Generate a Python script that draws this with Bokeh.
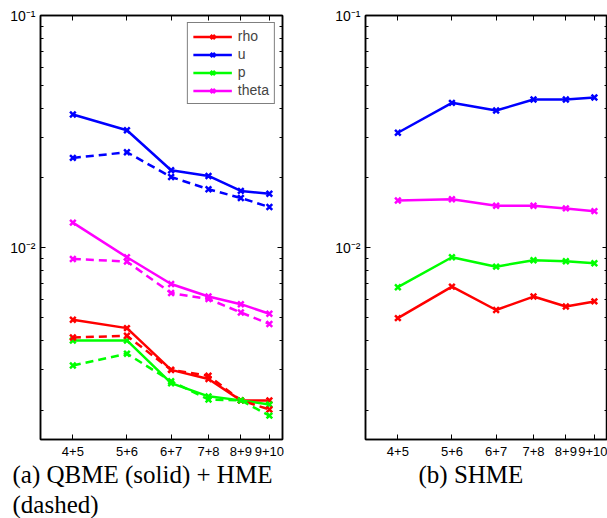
import math
from bokeh.plotting import figure
from bokeh.models import FixedTicker, LogAxis, Title, Range1d, Legend, LegendItem
from bokeh.layouts import row
from bokeh.embed import file_html
from bokeh.resources import INLINE

# ---------------- data ----------------
x_m = [4, 5, 6, 7, 8, 9]
tick_labels = ["4+5", "5+6", "6+7", "7+8", "8+9", "9+10"]
var_names = ["rho", "u", "p", "theta"]
colors = ["#ff0000", "#0000ff", "#00ff00", "#ff00ff"]

qbme_rho = [0.00491, 0.00452, 0.00299, 0.00273, 0.00221, 0.00221]
qbme_u = [0.0375, 0.0321, 0.0216, 0.0204, 0.0176, 0.0171]
qbme_p = [0.00400, 0.00400, 0.00262, 0.00230, 0.00221, 0.00212]
qbme_theta = [0.01285, 0.00912, 0.00700, 0.00618, 0.00573, 0.00521]

hme_rho = [0.00412, 0.00419, 0.00299, 0.00282, 0.00221, 0.00202]
hme_u = [0.0244, 0.0258, 0.0202, 0.0179, 0.0164, 0.0150]
hme_p = [0.00312, 0.00351, 0.00267, 0.00223, 0.00221, 0.00190]
hme_theta = [0.00897, 0.00874, 0.00640, 0.00603, 0.00528, 0.00471]

shme_rho = [0.00499, 0.00682, 0.00541, 0.00618, 0.00560, 0.00589]
shme_u = [0.0313, 0.0421, 0.0390, 0.0435, 0.0435, 0.0444]
shme_p = [0.00678, 0.00912, 0.00831, 0.00886, 0.00877, 0.00859]
shme_theta = [0.0160, 0.0162, 0.0152, 0.0152, 0.0148, 0.0144]

x_lo, x_hi = 3.5, 9.5
y_lo, y_hi = 0.0015, 0.1
y_major = [0.001, 0.01, 0.1]
y_major_labels = ["10\u207b\u00b3", "10\u207b\u00b2", "10\u207b\u00b9"]

caption_a = ["(a) QBME (solid) + HME", "(dashed)"]
caption_b = ["(b) SHME"]

# ---------------- layout constants ----------------
FIG_H = 518
FRAME_H = 424
TOP = 15
BOTTOM = FIG_H - TOP - FRAME_H
SANS = "Liberation Sans"
SERIF = "Liberation Serif"

y_minor = [k * 10.0 ** e for e in (-3, -2) for k in range(2, 10)]


def make_fig(width, border_left, border_right):
    p = figure(width=width, height=FIG_H, x_axis_type="log", y_axis_type="log",
               x_range=Range1d(x_lo, x_hi), y_range=Range1d(y_lo, y_hi),
               output_backend="svg", toolbar_location=None,
               min_border_left=border_left, min_border_right=border_right,
               min_border_top=TOP, min_border_bottom=BOTTOM)
    p.xgrid.visible = False
    p.ygrid.visible = False
    p.outline_line_color = "black"
    p.outline_line_width = 1.5
    p.background_fill_color = "white"
    p.border_fill_color = "white"

    xt = FixedTicker(ticks=x_m)
    yt = FixedTicker(ticks=y_major, minor_ticks=y_minor)
    xover = {float(v): s for v, s in zip(x_m, tick_labels)}
    yover = {v: s for v, s in zip(y_major, y_major_labels)}

    for ax in p.xaxis:
        ax.ticker = xt
        ax.major_label_overrides = xover
        ax.major_label_standoff = 7
        ax.major_label_text_font_size = "13px"
    for ax in p.yaxis:
        ax.ticker = yt
        ax.major_label_overrides = yover
        ax.major_label_standoff = 5
        ax.major_label_text_font_size = "14px"

    # extra mirrored axes (top/right) for inward ticks, hidden labels
    top_ax = LogAxis(ticker=xt, major_label_text_alpha=0, major_label_text_font_size="1px",
                     major_label_standoff=0)
    right_ax = LogAxis(ticker=yt, major_label_text_alpha=0, major_label_text_font_size="1px",
                       major_label_standoff=0)
    p.add_layout(top_ax, "above")
    p.add_layout(right_ax, "right")

    for ax in [p.below[0], p.left[0], top_ax, right_ax]:
        ax.axis_line_color = "black"
        ax.axis_line_width = 1.5
        ax.major_tick_line_color = "black"
        ax.minor_tick_line_color = "black"
        ax.major_tick_in = 5
        ax.major_tick_out = 0
        ax.minor_tick_in = 3
        ax.minor_tick_out = 0
        ax.major_label_text_color = "black"
        ax.major_label_text_font = SANS
    return p


def add_lines(p, series, dash):
    rends = []
    for ys, c in zip(series, colors):
        ln = p.line(x_m, ys, line_color=c, line_width=2.5, line_dash=dash)
        sc = p.scatter(x_m, ys, marker="x", size=8, line_color=c, line_width=2.5)
        rends.append((ln, sc))
    return rends


def add_caption(p, lines, offset, size, first_standoff):
    for i, txt in enumerate(lines):
        p.add_layout(Title(text=txt, align="left", offset=offset, text_font=SERIF,
                           text_font_size=size, text_font_style="normal", text_color="black",
                           standoff=first_standoff if i == 0 else 0), "below")


# ---------------- panel (a) ----------------
p1 = make_fig(300, 40, 18)
solid = add_lines(p1, [qbme_rho, qbme_u, qbme_p, qbme_theta], "solid")
add_lines(p1, [hme_rho, hme_u, hme_p, hme_theta], "8 5")
legend = Legend(items=[LegendItem(label=n, renderers=[r[0], r[1]]) for n, r in zip(var_names, solid)],
                location="top_right")
legend.margin = 7
legend.padding = 5
legend.spacing = 2
legend.glyph_width = 39
legend.glyph_height = 15
legend.label_height = 15
legend.label_standoff = 6
legend.label_text_font = SANS
legend.label_text_font_size = "14px"
legend.border_line_color = "black"
legend.border_line_width = 1
legend.background_fill_alpha = 1
p1.add_layout(legend, "center")
add_caption(p1, caption_a, -28, "25px", 1)

# ---------------- panel (b) ----------------
p2 = make_fig(307, 65, 0)
add_lines(p2, [shme_rho, shme_u, shme_p, shme_theta], "solid")
add_caption(p2, caption_b, 53, "25px", 1)

layout = row(p1, p2)
open("out.html", "w").write(file_html(layout, INLINE))
